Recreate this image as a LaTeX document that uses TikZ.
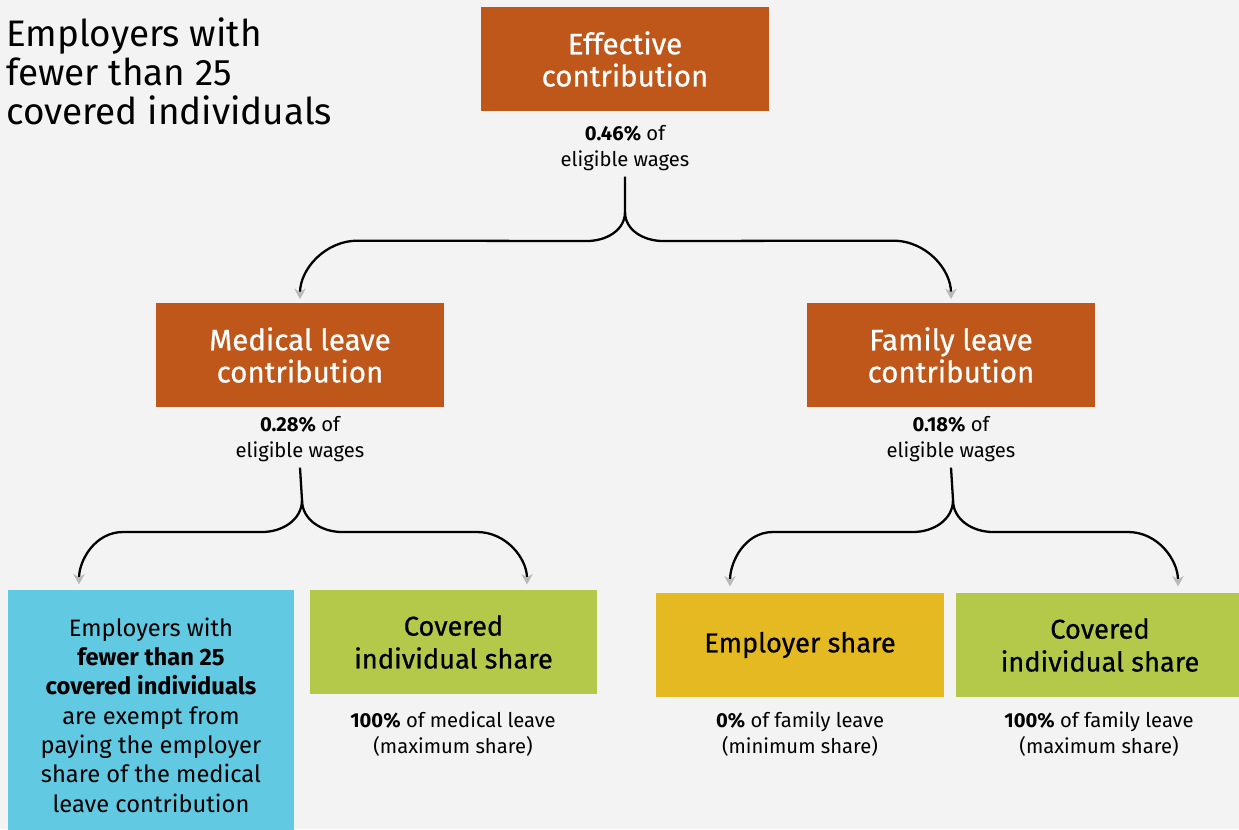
\documentclass[tikz,border=0pt]{standalone}
\usepackage{fontspec}
\setmainfont{Fira Sans}
\newfontfamily\headfont{Fira Sans}[FakeBold=0.6]
\usetikzlibrary{arrows.meta,calc}
\definecolor{bggray}{HTML}{F3F3F3}
\definecolor{rust}{HTML}{BE5719}
\definecolor{skyblue}{HTML}{62C9E2}
\definecolor{leafgreen}{HTML}{B4C94A}
\definecolor{mustard}{HTML}{E5B922}
\tikzset{
  levelbox/.style={fill=rust,text=white,minimum width=5.76cm,minimum height=2.08cm,
    align=center,font=\headfont\fontsize{16.8}{18.3}\selectfont},
  sharebox/.style={minimum width=5.76cm,minimum height=2.08cm,align=center,
    font=\headfont\fontsize{15.5}{18.7}\selectfont},
  rate/.style={align=center,font=\fontsize{11.5}{14.5}\selectfont},
  link/.style={line width=1.3pt,shorten >=2pt,-{Stealth[gray!55,length=6pt,width=6.5pt]}}
}
\begin{document}
\begin{tikzpicture}[x=0.02cm,y=0.02cm]
  \useasboundingbox (0,0) rectangle (1239,-829);
  \fill[bggray] (0,0) rectangle (1239,-829);
  % heading
  \node[anchor=west,align=left,font=\fontsize{21}{22.2}\selectfont] (title) at (0,-71)
    {Employers with\\fewer than 25\\covered individuals};
  % top level
  \node[levelbox] (eff) at (625,-59) {Effective\\contribution};
  \node[rate] (effl) at (625,-148) {\textbf{0.46\%} of\\eligible wages};
  % second level
  \node[levelbox] (med) at (300,-355) {Medical leave\\contribution};
  \node[rate] (medl) at (300,-439) {\textbf{0.28\%} of\\eligible wages};
  \node[levelbox] (fam) at (951,-355) {Family leave\\contribution};
  \node[rate] (faml) at (951,-439) {\textbf{0.18\%} of\\eligible wages};
  % shares
  \node[fill=skyblue,minimum width=5.72cm,minimum height=5cm,align=center,
    font=\fontsize{13.5}{16.7}\selectfont] (exempt) at (151,-715)
    {Employers with\\\textbf{fewer than 25}\\\textbf{covered individuals}\\are exempt from\\paying the employer\\share of the medical\\leave contribution};
  \node[sharebox,fill=leafgreen,minimum width=5.74cm] (medshare) at (453.5,-642) {Covered\\individual share};
  \node[rate] (medsharel) at (453,-734) {\textbf{100\%} of medical leave\\(maximum share)};
  \node[sharebox,fill=mustard] (empshare) at (800,-645) {Employer share};
  \node[rate] (empsharel) at (800,-734) {\textbf{0\%} of family leave\\(minimum share)};
  \node[sharebox,fill=leafgreen] (famshare) at (1100,-645) {Covered\\individual share};
  \node[rate] (famsharel) at (1099,-734) {\textbf{100\%} of family leave\\(maximum share)};
  % splits
  \coordinate (esplit) at (625,-212);
  \coordinate (msplit) at (302,-500);
  \coordinate (fsplit) at (953,-500);
  \coordinate (mleft) at ($(msplit)+(-223,-88)$);
  \coordinate (mright) at ($(msplit)+(225,-88)$);
  \coordinate (fleft) at ($(fsplit)+(-223,-90)$);
  \coordinate (fright) at ($(fsplit)+(225,-90)$);
  \draw[link] (effl.south) -- (esplit) to[out=-90,in=0] ++(-38,-29)
    -- ($(med.north)+(58,62)$) to[out=180,in=90] (med.north);
  \draw[link] (esplit) to[out=-90,in=180] ++(38,-29)
    -- ($(fam.north)+(-58,62)$) to[out=0,in=90] (fam.north);
  \draw[link] (medl.south) -- (msplit) to[out=-90,in=0] ++(-40,-32)
    -- ($(mleft)+(44,56)$) to[out=180,in=90] (mleft);
  \draw[link] (msplit) to[out=-90,in=180] ++(40,-32)
    -- ($(mright)+(-50,56)$) to[out=0,in=90] (mright);
  \draw[link] (faml.south) -- (fsplit) to[out=-90,in=0] ++(-40,-32)
    -- ($(fleft)+(43,58)$) to[out=180,in=90] (fleft);
  \draw[link] (fsplit) to[out=-90,in=180] ++(40,-32)
    -- ($(fright)+(-50,58)$) to[out=0,in=90] (fright);
\end{tikzpicture}
\end{document}
